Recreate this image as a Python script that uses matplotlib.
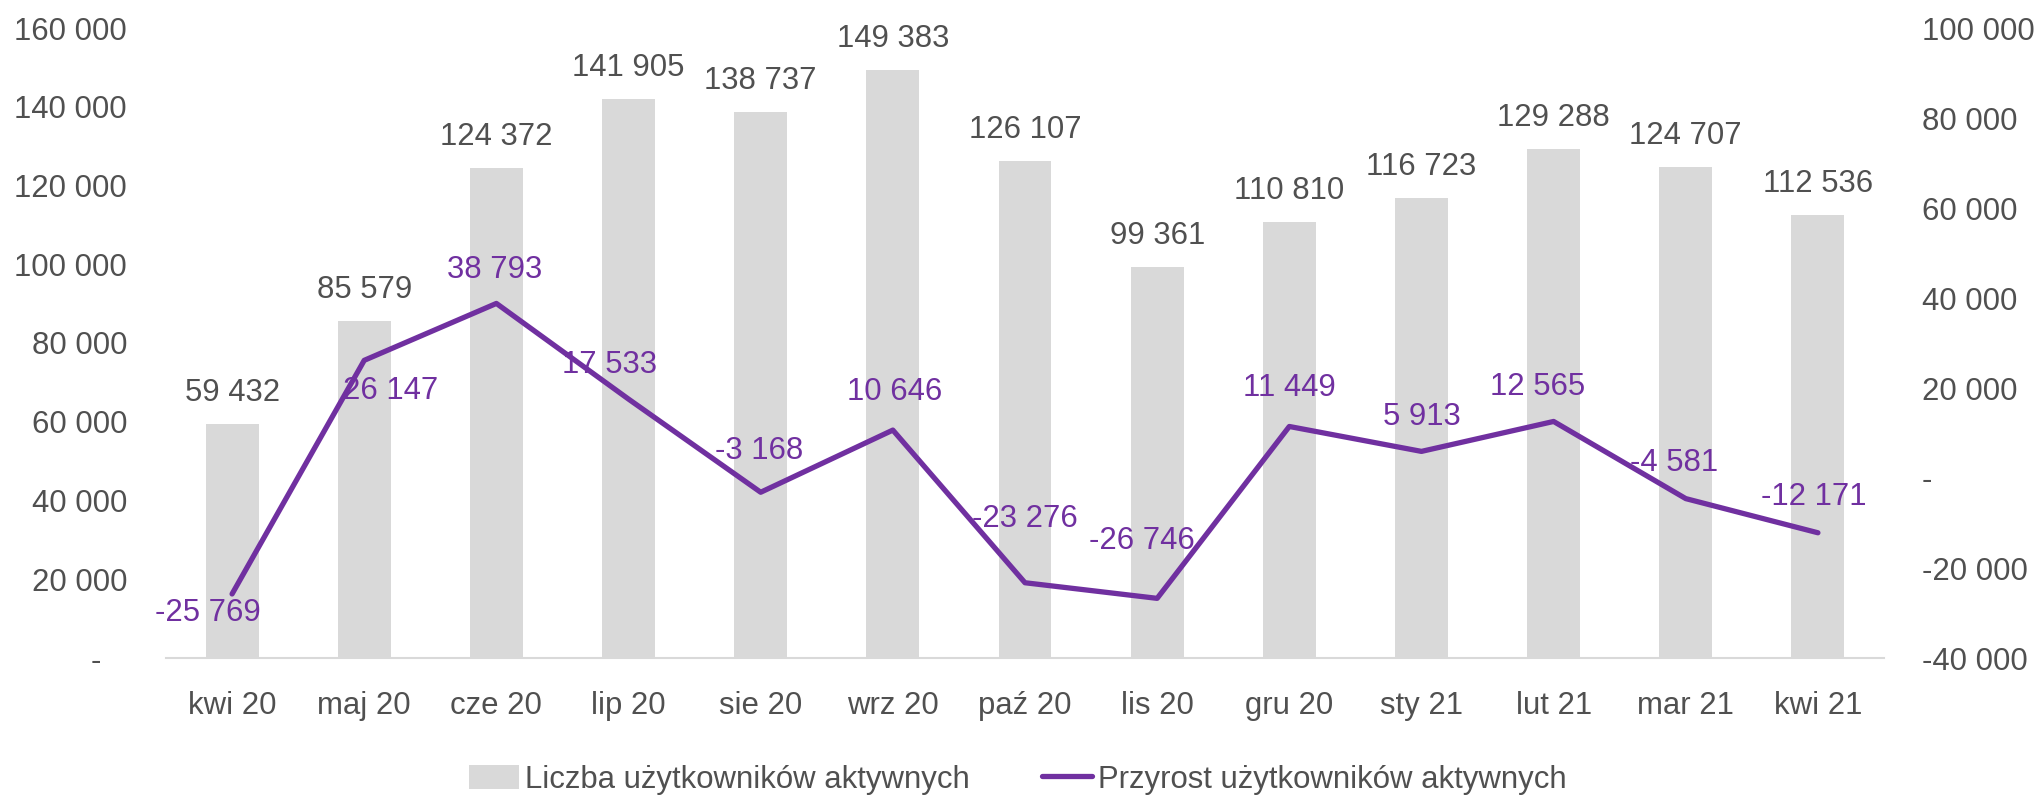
import matplotlib.pyplot as plt
import numpy as np
from matplotlib.ticker import FuncFormatter

plt.rcParams['font.family'] = ['Liberation Sans', 'DejaVu Sans']

months = ['kwi 20', 'maj 20', 'cze 20', 'lip 20', 'sie 20', 'wrz 20', 'paź 20',
          'lis 20', 'gru 20', 'sty 21', 'lut 21', 'mar 21', 'kwi 21']
active_users = [59432, 85579, 124372, 141905, 138737, 149383, 126107,
                99361, 110810, 116723, 129288, 124707, 112536]
user_growth = [-25769, 26147, 38793, 17533, -3168, 10646, -23276,
               -26746, 11449, 5913, 12565, -4581, -12171]

# hand placement of the purple labels (pixels, relative to the point)
growth_offsets = [(-24, -19), (26, -31), (-2, 33), (-19, 34), (-2, 41), (2, 38), (0, 64),
                  (-15, 57), (0, 38), (0, 34), (-16, 34), (-12, 36), (-4, 36)]

gray = '#D9D9D9'
purple = '#7030A0'
txt = '#505050'
fs = 22.4


def fmt(v, pos=None):
    if v == 0:
        return '-'
    s = f'{int(round(v)):,}'.replace(',', ' ')
    return s


fig = plt.figure(figsize=(20.44, 7.98), dpi=100)
ax = fig.add_axes([166 / 2044, 1 - 658 / 798, (1884 - 166) / 2044, (658 - 28) / 798])
ax2 = ax.twinx()

x = np.arange(len(months))
ax.bar(x, active_users, width=0.4, color=gray, label='Liczba użytkowników aktywnych', zorder=1)
for i, v in enumerate(active_users):
    ax.annotate(fmt(v), (x[i], v), xytext=(0, 31), textcoords='offset pixels',
                ha='center', va='center', fontsize=fs, color=txt)

ax2.plot(x, user_growth, color=purple, lw=3.8, solid_capstyle='round',
         label='Przyrost użytkowników aktywnych', zorder=3)
for i, v in enumerate(user_growth):
    ax2.annotate(fmt(v), (x[i], v), xytext=growth_offsets[i], textcoords='offset pixels',
                 ha='center', va='center', fontsize=fs, color=purple)

ax.set_xlim(-0.5, len(months) - 0.5)
ax.set_ylim(0, 160000)
ax.set_yticks(np.arange(0, 160001, 20000))
ax.yaxis.set_major_formatter(FuncFormatter(lambda v, p: '-   ' if v == 0 else fmt(v)))
ax2.set_ylim(-40000, 100000)
ax2.set_yticks(np.arange(-40000, 100001, 20000))
ax2.yaxis.set_major_formatter(FuncFormatter(fmt))

ax.set_xticks(x)
ax.set_xticklabels(months)
ax.tick_params(axis='x', length=0, pad=24, labelsize=fs, labelcolor=txt)
ax.tick_params(axis='y', length=0, pad=28, labelsize=fs, labelcolor=txt)
ax2.tick_params(axis='y', length=0, pad=27, labelsize=fs, labelcolor=txt)

for a in (ax, ax2):
    for side in ['top', 'left', 'right', 'bottom']:
        a.spines[side].set_visible(False)
ax.spines['bottom'].set_visible(True)
ax.spines['bottom'].set_color(gray)
ax.spines['bottom'].set_linewidth(1.5)

ax.set_zorder(ax2.get_zorder() - 1)
ax2.patch.set_visible(False)

h1, l1 = ax.get_legend_handles_labels()
h2, l2 = ax2.get_legend_handles_labels()
fig.legend(h1 + h2, l1 + l2, loc='center', bbox_to_anchor=(0.498, 0.023), ncol=2,
           frameon=False, fontsize=fs, labelcolor=txt, handlelength=1.6,
           handletextpad=0.2, columnspacing=2.3, handleheight=0.8)

fig.savefig('out.png', dpi=100)
